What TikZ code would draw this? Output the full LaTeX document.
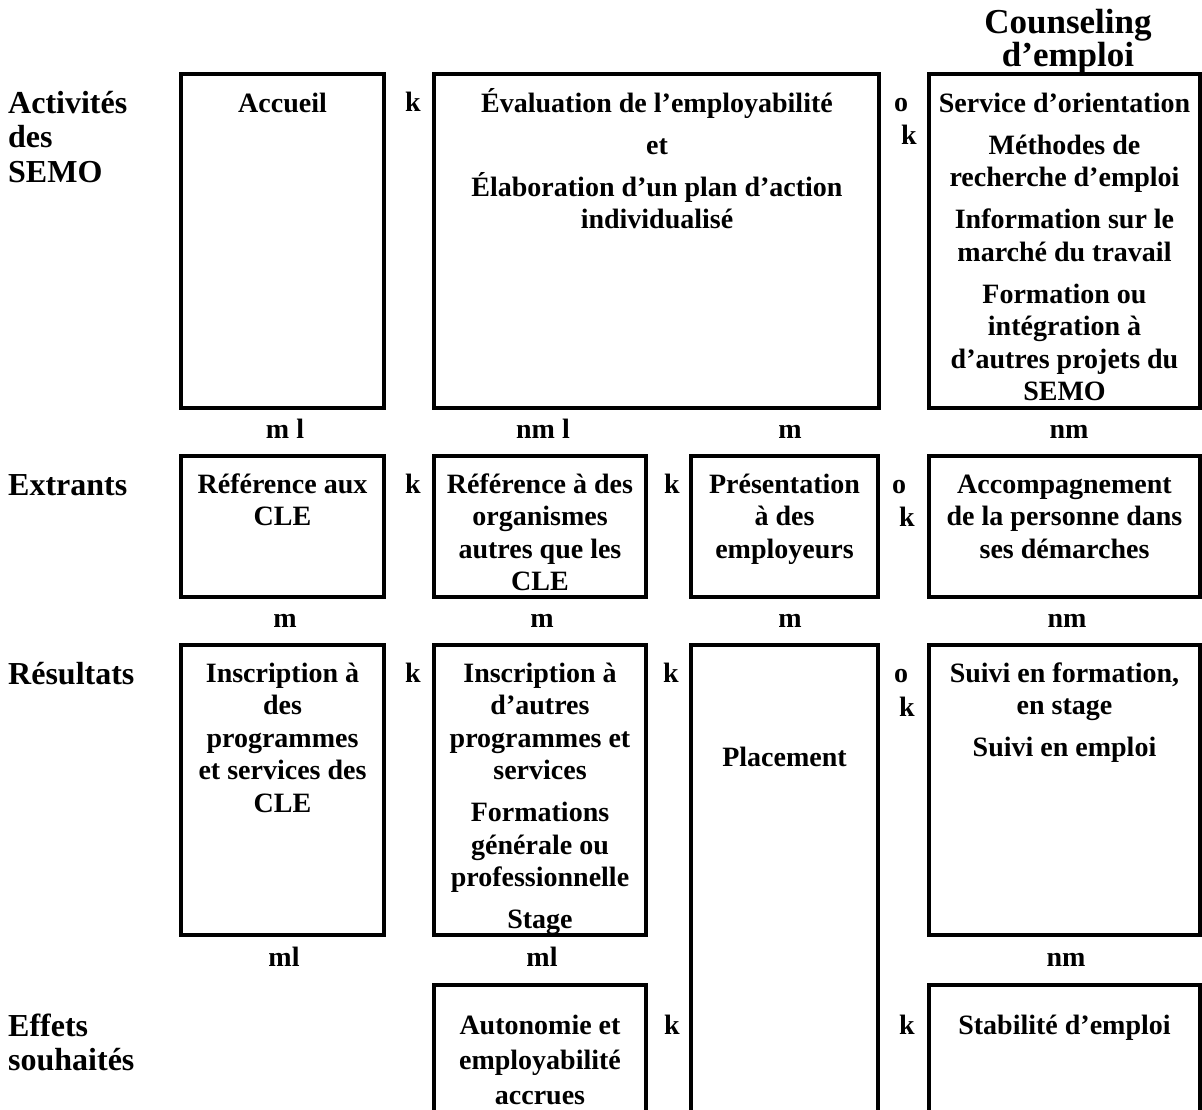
\documentclass[tikz,border=0pt]{standalone}
\usepackage{fontspec}
\setmainfont{Liberation Serif}
\usepackage{tikz}
\newcommand\haut{\rule{0pt}{26pt}}
\newcommand\hauttitre{\rule{0pt}{30pt}}
\tikzset{
	boite/.style={line width=3.5pt},
	texte/.style={anchor=north, yshift=26pt, align=center, inner sep=0pt, font=\fontsize{28}{32.5}\selectfont\bfseries},
	titre/.style={anchor=north west, yshift=30pt, align=left, inner sep=0pt, font=\fontsize{32}{34.5}\selectfont\bfseries},
	signe/.style={anchor=base, inner sep=0pt, font=\fontsize{28}{32.5}\selectfont\bfseries}
}

\begin{document}
\begin{tikzpicture}[x=1pt, y=-1pt]
			%%%%% START %%%%%
			\useasboundingbox (0, 0) rectangle (1202, 1110);
			
			\node[titre, align=center, anchor=north, font=\fontsize{35}{33}\selectfont\bfseries] (counseling) at (1068, 33) {\hauttitre Counseling\\d’emploi};
			\node[titre] (activites) at (8, 113) {\hauttitre Activités\\des\\SEMO};
			\node[titre] (extrants) at (8, 495) {\hauttitre Extrants};
			\node[titre] (resultats) at (8, 684) {\hauttitre Résultats};
			\node[titre] (effets) at (8, 1036) {\hauttitre Effets\\souhaités};
			
			\draw[boite] (181, 74) rectangle (384, 408);
			\draw[boite] (434, 74) rectangle (879, 408);
			\draw[boite] (929, 74) rectangle (1200, 408);
			\node[texte] (accueil) at (282.5, 112) {\haut Accueil};
			\node[texte] (evaluation) at (657, 112) {\haut Évaluation de l’employabilité\\[9.5pt]et\\[9.5pt]Élaboration d’un plan d’action\\individualisé};
			\node[texte] (orientation) at (1064.5, 112) {\haut Service d’orientation\\[9.5pt]Méthodes de\\recherche d’emploi\\[9.5pt]Information sur le\\marché du travail\\[9.5pt]Formation ou\\intégration à\\d’autres projets du\\SEMO};
			\node[signe] (k1) at (413, 112) {k};
			\node[signe] (o1) at (901, 112) {o};
			\node[signe] (k2) at (909, 145) {k};
			
			\node[signe] (ml1) at (285, 438) {m l};
			\node[signe] (nml1) at (543, 438) {nm l};
			\node[signe] (m1) at (790, 438) {m};
			\node[signe] (nm1) at (1069, 438) {nm};
			
			\draw[boite] (181, 456) rectangle (384, 597);
			\draw[boite] (434, 456) rectangle (646, 597);
			\draw[boite] (691, 456) rectangle (878, 597);
			\draw[boite] (929, 456) rectangle (1200, 597);
			\node[texte] (refcle) at (282.5, 493) {\haut Référence aux\\CLE};
			\node[texte] (reforg) at (540, 493) {\haut Référence à des\\organismes\\autres que les\\CLE};
			\node[texte] (presentation) at (784.5, 493) {\haut Présentation\\à des\\employeurs};
			\node[texte] (accompagnement) at (1064.5, 493) {\haut Accompagnement\\de la personne dans\\ses démarches};
			\node[signe] (k3) at (413, 493) {k};
			\node[signe] (k4) at (672, 493) {k};
			\node[signe] (o2) at (899, 493) {o};
			\node[signe] (k5) at (907, 526) {k};
			
			\node[signe] (m2) at (285, 627) {m};
			\node[signe] (m3) at (542, 627) {m};
			\node[signe] (m4) at (790, 627) {m};
			\node[signe] (nm2) at (1067, 627) {nm};
			
			\draw[boite] (181, 645) rectangle (384, 935);
			\draw[boite] (434, 645) rectangle (646, 935);
			\draw[boite] (929, 645) rectangle (1200, 935);
			\draw[boite] (691, 1120) -- (691, 645) -- (878, 645) -- (878, 1120);
			\node[texte] (inscle) at (282.5, 682) {\haut Inscription à\\des\\programmes\\et services des\\CLE};
			\node[texte] (insautres) at (540, 682) {\haut Inscription à\\d’autres\\programmes et\\services\\[9.5pt]Formations\\générale ou\\professionnelle\\[9.5pt]Stage};
			\node[texte] (placement) at (784.5, 766) {\haut Placement};
			\node[texte] (suivi) at (1064.5, 682) {\haut Suivi en formation,\\en stage\\[9.5pt]Suivi en emploi};
			\node[signe] (k6) at (413, 682) {k};
			\node[signe] (k7) at (671, 682) {k};
			\node[signe] (o3) at (901, 682) {o};
			\node[signe] (k8) at (907, 716) {k};
			
			\node[signe] (ml2) at (284, 966) {ml};
			\node[signe] (ml3) at (542, 966) {ml};
			\node[signe] (nm3) at (1066, 966) {nm};
			
			\draw[boite] (434, 1120) -- (434, 985) -- (646, 985) -- (646, 1120);
			\draw[boite] (929, 1120) -- (929, 985) -- (1200, 985) -- (1200, 1120);
			\node[texte, font=\fontsize{28}{35}\selectfont\bfseries] (autonomie) at (540, 1034) {\haut Autonomie et\\employabilité\\accrues};
			\node[texte] (stabilite) at (1064.5, 1034) {\haut Stabilité d’emploi};
			\node[signe] (k9) at (672, 1034) {k};
			\node[signe] (k10) at (907, 1034) {k};
			
			%%%%% END %%%%%
\end{tikzpicture}
\end{document}
